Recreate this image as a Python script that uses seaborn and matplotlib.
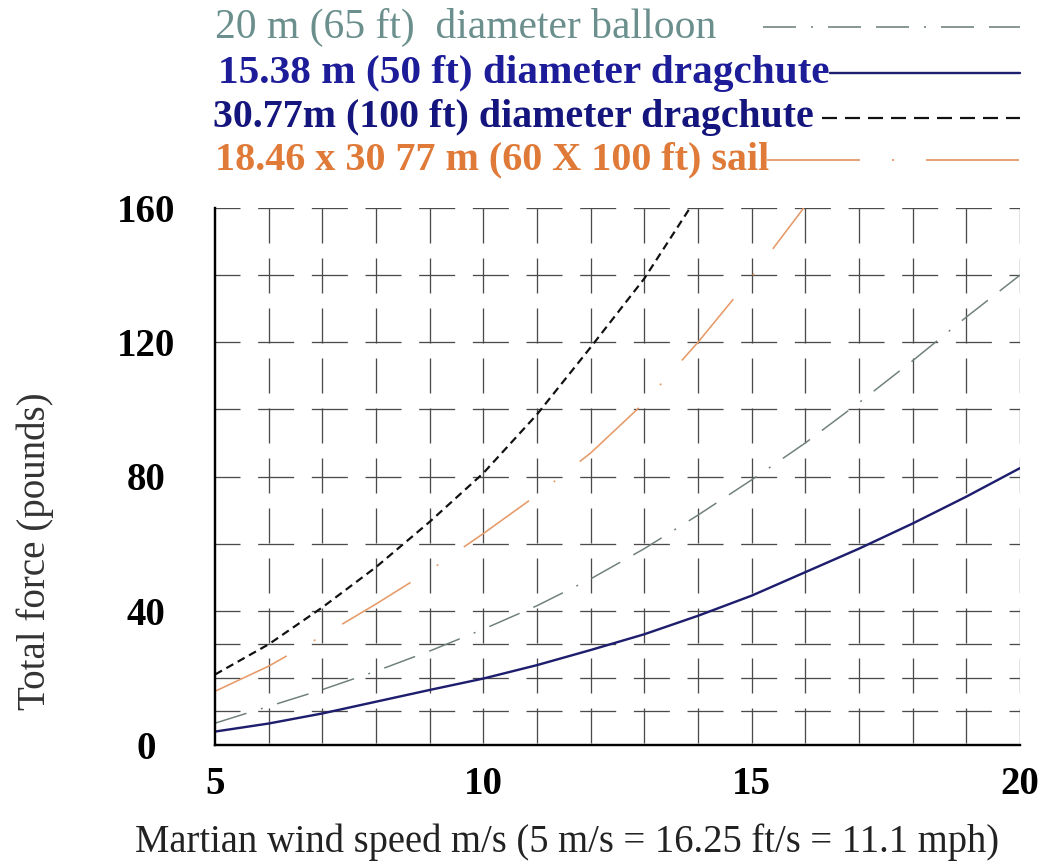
import matplotlib
matplotlib.use("Agg")
import matplotlib.pyplot as plt
import seaborn as sns
import pandas as pd
from matplotlib.lines import Line2D

# ---------------- data ----------------
speed = [5, 6, 7, 8, 9, 10, 11, 12, 13, 14, 15, 16, 17, 18, 19, 20]
balloon_20m = [6.5, 11.5, 16.5, 22, 28, 34.5, 41.5, 49.5, 58.5, 68.5, 79, 90, 102, 114.5, 127.5, 140]
chute_15m = [4, 6.4, 9.4, 12.9, 16.4, 19.8, 23.8, 28.3, 33, 38.5, 44.5, 51.5, 58.5, 66, 74, 82.5]
chute_30m_speed = [5, 6, 7, 8, 9, 10, 11, 12, 13, 13.85]
chute_30m = [21, 30, 41, 53, 66.5, 81, 98.5, 118.5, 139, 160]
sail_speed = [5, 6, 7, 8, 9, 10, 11, 12, 13, 14, 15, 15.97]
sail = [16, 23.5, 32.5, 42, 52, 63, 74.5, 87, 102, 120, 139.5, 160]

legend_labels = ["20 m (65 ft)  diameter balloon",
                 "15.38 m (50 ft) diameter dragchute",
                 "30.77m (100 ft) diameter dragchute",
                 "18.46 x 30 77 m (60 X 100 ft) sail"]
x_ticks = [5, 10, 15, 20]
y_ticks = [0, 40, 80, 120, 160]
x_grid = [6, 7, 8, 9, 10, 11, 12, 13, 14, 15, 16, 17, 18, 19, 20]
y_grid = [10, 20, 30, 40, 60, 80, 100, 120, 140, 160]
x_title = "Martian wind speed m/s (5 m/s = 16.25 ft/s = 11.1 mph)"
y_title = "Total force (pounds)"

# ---------------- styling ----------------
sns.set_theme(style="white")
plt.rcParams["font.family"] = ["Liberation Serif", "DejaVu Serif"]
plt.rcParams["lines.scale_dashes"] = False

W, H = 1041, 865
PX = 0.72  # points per pixel at dpi 100

fig = plt.figure(figsize=(W / 100, H / 100), dpi=100)
fig.patch.set_facecolor("white")
ax = fig.add_axes([215 / W, 1 - 745 / H, (1020 - 215) / W, (745 - 208) / H])
ax.set_facecolor("white")

c_balloon_txt, c_balloon = "#6a8f8c", "#6f8079"
c_navy_txt, c_navy = "#1d1d9a", "#1e1e6e"
c_black_txt, c_black = "#15157e", "#111111"
c_sail_txt, c_sail = "#e07a38", "#e69a68"

ls_balloon = (0, (33 * PX, 15 * PX, 2 * PX, 15 * PX, 33 * PX, 15 * PX))
ls_sail = (0, (80 * PX, 31 * PX, 2 * PX, 31 * PX))
ls_sail_leg = (0, (93 * PX, 32 * PX, 2 * PX, 32 * PX))
ls_black = (0, (8 * PX, 5 * PX))
ls_black_leg = (0, (15 * PX, 8 * PX))

# grid
for yv in y_grid:
    ax.axhline(yv, xmin=0, xmax=1, color="#4a4a4a", lw=1.3 * PX,
               linestyle=(11 * PX, (36 * PX, 17.67 * PX)), zorder=1)
for xv in x_grid:
    ax.axvline(xv, ymin=1, ymax=0, color="#4a4a4a", lw=1.3 * PX,
               linestyle=(0, (35 * PX, 15 * PX)), zorder=1)

# curves
sns.lineplot(x=speed, y=balloon_20m, ax=ax, color=c_balloon, lw=1.5 * PX,
             linestyle=ls_balloon, zorder=3)
sns.lineplot(x=speed, y=chute_15m, ax=ax, color=c_navy, lw=2.4 * PX, zorder=3)
sns.lineplot(x=chute_30m_speed, y=chute_30m, ax=ax, color=c_black, lw=2.2 * PX,
             linestyle=ls_black, zorder=3)
sns.lineplot(x=sail_speed, y=sail, ax=ax, color=c_sail, lw=1.6 * PX,
             linestyle=ls_sail, zorder=3)

ax.set_xlim(5, 20)
ax.set_ylim(0, 160)
ax.set_xticks(x_ticks)
ax.set_yticks(y_ticks)
ax.tick_params(axis="both", length=0, labelsize=28, colors="black")
ax.tick_params(axis="x", pad=15)
ax.tick_params(axis="y", pad=69 * PX)
for lab in ax.get_xticklabels() + ax.get_yticklabels():
    lab.set_fontweight("bold")
for lab in ax.get_yticklabels():
    lab.set_horizontalalignment("center")

for side in ["top", "right"]:
    ax.spines[side].set_visible(False)
for side in ["left", "bottom"]:
    ax.spines[side].set_color("black")
    ax.spines[side].set_linewidth(2.4 * PX)
    ax.spines[side].set_zorder(4)

ax.set_xlabel(x_title, fontsize=26, color="#222222")
ax.set_ylabel(y_title, fontsize=26, color="#333333")
ax.xaxis.label.set_va("center")
ax.yaxis.label.set_va("center")
ax.xaxis.set_label_coords((567 - 215) / 805, (745 - 842) / 537)
ax.yaxis.set_label_coords((35 - 215) / 805, (745 - 551) / 537)

# legend (drawn as coloured text with line samples)
leg_y = [27, 73, 118, 160]
leg_x = [215, 218, 213, 215]
leg_w = [500, 612, 602, 555]
leg_txt_colors = [c_balloon_txt, c_navy_txt, c_black_txt, c_sail_txt]
leg_weights = ["normal", "bold", "bold", "bold"]
leg_line_start = [763, 830, 822, 767]
leg_line_colors = [c_balloon, c_navy, c_black, c_sail]
leg_line_styles = [ls_balloon, "-", ls_black_leg, ls_sail_leg]
leg_line_widths = [1.6 * PX, 2.4 * PX, 2.2 * PX, 1.8 * PX]

texts = []
for lab, x0, y0, col, wt in zip(legend_labels, leg_x, leg_y, leg_txt_colors, leg_weights):
    t = fig.text(x0 / W, 1 - y0 / H, lab, color=col, fontsize=26, fontweight=wt,
                 ha="left", va="center")
    texts.append(t)

fig.canvas.draw()
r = fig.canvas.get_renderer()
for t, target in zip(texts, leg_w):
    w = t.get_window_extent(r).width
    t.set_fontsize(t.get_fontsize() * target / w)
# fit axis titles
for lab, target, horiz in [(ax.xaxis.label, 865, True), (ax.yaxis.label, 318, False)]:
    bb = lab.get_window_extent(r)
    cur = bb.width if horiz else bb.height
    lab.set_fontsize(lab.get_fontsize() * target / cur)

for xs, y0, col, ls, lw in zip(leg_line_start, leg_y, leg_line_colors, leg_line_styles, leg_line_widths):
    fig.add_artist(Line2D([xs / W, 1020 / W], [1 - y0 / H, 1 - y0 / H],
                          transform=fig.transFigure, color=col, linestyle=ls, lw=lw))

fig.savefig("out.png", dpi=100, facecolor="white")
